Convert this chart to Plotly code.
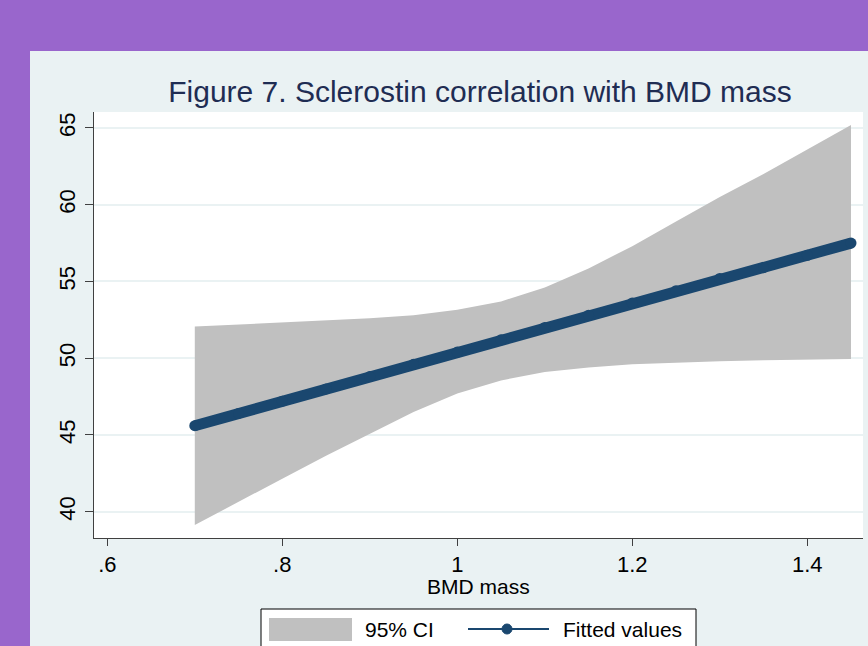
import plotly.graph_objects as go

# ---- data ----
bmd = [0.70, 0.75, 0.80, 0.85, 0.90, 0.95, 1.00, 1.05,
       1.10, 1.15, 1.20, 1.25, 1.30, 1.35, 1.40, 1.45]
fitted = [45.6, 46.4, 47.2, 48.0, 48.8, 49.6, 50.4, 51.2,
          52.0, 52.8, 53.6, 54.4, 55.2, 55.9, 56.7, 57.5]
ci_upper = [52.06, 52.2, 52.35, 52.45, 52.6, 52.8, 53.15, 53.7,
            54.6, 55.85, 57.3, 58.9, 60.5, 62.0, 63.6, 65.2]
ci_lower = [39.13, 40.65, 42.15, 43.65, 45.1, 46.5, 47.7, 48.55,
            49.1, 49.4, 49.6, 49.72, 49.8, 49.87, 49.92, 49.95]

x_ticks = [0.6, 0.8, 1.0, 1.2, 1.4]
x_tick_labels = [".6", ".8", "1", "1.2", "1.4"]
y_ticks = [40, 45, 50, 55, 60, 65]
y_tick_labels = ["40", "45", "50", "55", "60", "65"]
legend_labels = ["95% CI", "Fitted values"]
title_text = "Figure 7. Sclerostin correlation with BMD mass"
x_title = "BMD mass"

# ---- layout geometry ----
W, H = 868, 646
L, R, T, B = 94, 5, 112, 108
PW, PH = W - L - R, H - T - B


def px(x):
    return (x - L) / PW


def py(y):
    return (H - B - y) / PH


FONT = "Liberation Sans, Arial, Helvetica, sans-serif"
NAVY = "#1a476f"
GREY = "#c0c0c0"
BG = "#eaf2f3"
PURPLE = "#9966cc"

fig = go.Figure()

fig.add_trace(go.Scatter(
    x=bmd + bmd[::-1],
    y=ci_upper + ci_lower[::-1],
    fill="toself", fillcolor=GREY, mode="lines",
    line=dict(width=0, color=GREY),
    name=legend_labels[0], showlegend=False, hoverinfo="skip",
))
fig.add_trace(go.Scatter(
    x=bmd, y=fitted, mode="lines+markers",
    line=dict(color=NAVY, width=11),
    marker=dict(color=NAVY, size=11),
    name=legend_labels[1], showlegend=False,
))

shapes = [
    # purple frame
    dict(type="rect", xref="paper", yref="paper", x0=px(0), x1=px(W),
         y0=py(51), y1=py(0), fillcolor=PURPLE, line=dict(width=0), layer="above"),
    dict(type="rect", xref="paper", yref="paper", x0=px(0), x1=px(30),
         y0=py(H), y1=py(0), fillcolor=PURPLE, line=dict(width=0), layer="above"),
    # legend box
    dict(type="rect", xref="paper", yref="paper", x0=px(261), x1=px(696),
         y0=py(660), y1=py(609), fillcolor="white",
         line=dict(color="black", width=1), layer="above"),
    dict(type="rect", xref="paper", yref="paper", x0=px(269), x1=px(352),
         y0=py(641), y1=py(618), fillcolor=GREY, line=dict(width=0), layer="above"),
    dict(type="line", xref="paper", yref="paper", x0=px(468), x1=px(549),
         y0=py(629), y1=py(629), line=dict(color=NAVY, width=2), layer="above"),
    dict(type="circle", xref="paper", yref="paper", x0=px(502), x1=px(512),
         y0=py(634), y1=py(624), fillcolor=NAVY, line=dict(color=NAVY, width=1),
         layer="above"),
]

annotations = [
    dict(text=legend_labels[0], xref="paper", yref="paper", x=px(363), y=py(629),
         xanchor="left", yanchor="middle", showarrow=False,
         font=dict(family=FONT, size=21, color="black")),
    dict(text=legend_labels[1], xref="paper", yref="paper", x=px(561), y=py(629),
         xanchor="left", yanchor="middle", showarrow=False,
         font=dict(family=FONT, size=21, color="black")),
    dict(text=x_title, xref="paper", yref="paper", x=px(478), y=py(586),
         xanchor="center", yanchor="middle", showarrow=False,
         font=dict(family=FONT, size=21, color="black")),
]

fig.update_layout(
    width=W, height=H,
    margin=dict(l=L, r=R, t=T, b=B, autoexpand=False),
    paper_bgcolor=BG, plot_bgcolor="white",
    title=dict(text=title_text, xref="paper", x=px(480), xanchor="center",
               y=1 - 91 / H, yanchor="middle", yref="container",
               font=dict(family=FONT, size=30, color="#1f2d53")),
    showlegend=False,
    shapes=shapes, annotations=annotations,
    font=dict(family=FONT, color="black"),
)

fig.update_xaxes(
    range=[0.5848, 1.4637], tickvals=x_ticks, ticktext=x_tick_labels,
    showgrid=False, zeroline=False,
    showline=True, linecolor="#404040", linewidth=1,
    ticks="outside", ticklen=7, tickcolor="#404040", tickwidth=1,
    tickfont=dict(family=FONT, size=22, color="black"),
    automargin=False, fixedrange=True,
)
fig.update_yaxes(
    range=[38.285, 66.04], tickvals=y_ticks, ticktext=y_tick_labels,
    tickangle=-90,
    showgrid=True, gridcolor=BG, gridwidth=2, zeroline=False,
    showline=True, linecolor="#404040", linewidth=1,
    ticks="outside", ticklen=8, tickcolor="#404040", tickwidth=1,
    tickfont=dict(family=FONT, size=22, color="black"),
    ticklabelstandoff=1,
    automargin=False, fixedrange=True,
)

fig.write_html(
    "out.html",
    config={"displayModeBar": False},
    post_script="document.body.style.margin='0';document.body.style.padding='0';",
)
